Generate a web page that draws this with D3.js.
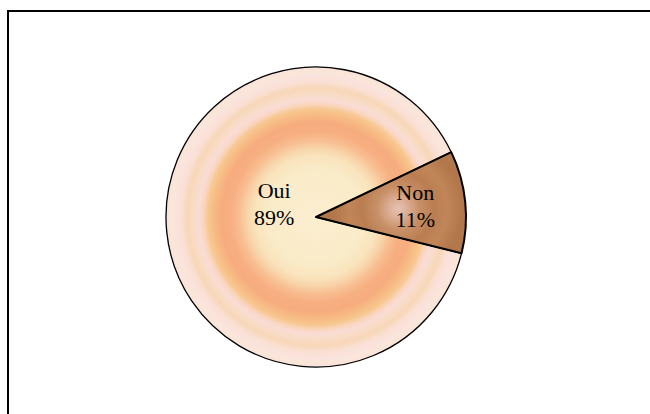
<!DOCTYPE html>
<html>
<head>
<meta charset="utf-8">
<script src="https://cdn.jsdelivr.net/npm/d3@7"></script>
<style>
  html, body { margin: 0; padding: 0; background: #fff; }
  svg { display: block; }
</style>
</head>
<body>
<svg id="chart" width="650" height="414"></svg>
<script>
const categories = ["Oui", "Non"];
const values = [89, 11];
const percentLabels = ["89%", "11%"];

const W = 650, H = 414;
const cx = 316, cy = 217, R = 150;
const svg = d3.select("#chart");

// outer frame (extends past the window at right/bottom)
svg.append("rect")
  .attr("x", 8).attr("y", 11)
  .attr("width", 700).attr("height", 500)
  .attr("fill", "none").attr("stroke", "#000").attr("stroke-width", 2);

const defs = svg.append("defs");

const ouiGrad = defs.append("radialGradient")
  .attr("id", "gOui").attr("gradientUnits", "userSpaceOnUse")
  .attr("cx", 0).attr("cy", 0).attr("r", R);
[
  [0.00, "#FBEED0"], [0.32, "#FAEBC8"], [0.41, "#F9E3BC"], [0.46, "#F8D4AA"],
  [0.51, "#F8BF92"], [0.57, "#F7AF82"], [0.63, "#F6AC7E"], [0.68, "#F7BA84"],
  [0.72, "#F8C790"], [0.75, "#F9D5BC"], [0.78, "#FADCD6"], [0.82, "#F9DCC6"],
  [0.86, "#F8D7B8"], [0.90, "#FAE0D4"], [0.94, "#FBE3DD"], [0.97, "#FAE6D8"],
  [1.00, "#FAE2DA"]
].forEach(([o, c]) => ouiGrad.append("stop").attr("offset", o).attr("stop-color", c));

const pie = d3.pie().sort(null).value(d => d)
  .startAngle(104 * Math.PI / 180)
  .endAngle(464 * Math.PI / 180);
const arcs = pie(values);
const arc = d3.arc().innerRadius(0).outerRadius(R);

const g = svg.append("g").attr("transform", `translate(${cx},${cy})`);

// Non gradient centred near the slice's light spot
const nonArc = arcs[1];
const nonC = d3.arc().innerRadius(R * 0.55).outerRadius(R * 0.55).centroid(nonArc);
const nonGrad = defs.append("radialGradient")
  .attr("id", "gNon").attr("gradientUnits", "userSpaceOnUse")
  .attr("cx", nonC[0]).attr("cy", nonC[1]).attr("r", 80);
[
  [0.00, "#E6C2B2"], [0.12, "#DCAE96"], [0.26, "#C99168"], [0.45, "#BA7D52"],
  [0.62, "#C08658"], [0.80, "#B2774A"], [1.00, "#B07A50"]
].forEach(([o, c]) => nonGrad.append("stop").attr("offset", o).attr("stop-color", c));

const fills = ["url(#gOui)", "url(#gNon)"];

g.selectAll("path.slice")
  .data(arcs)
  .join("path")
  .attr("class", "slice")
  .attr("d", arc)
  .attr("fill", (d, i) => fills[i])
  .attr("stroke", "#000")
  .attr("stroke-width", (d, i) => i === 1 ? 2 : 1.3)
  .attr("stroke-linejoin", "round");

// labels
const labelArcs = [
  d3.arc().innerRadius(R * 0.28).outerRadius(R * 0.28),
  d3.arc().innerRadius(R * 0.665).outerRadius(R * 0.665)
];
const lineH = 27;
arcs.forEach((d, i) => {
  const [lx, ly0] = labelArcs[i].centroid(d);
  const ly = i === 0 ? ly0 - 17 : ly0;
  const t = g.append("text")
    .attr("x", lx).attr("y", ly)
    .attr("text-anchor", "middle")
    .attr("font-family", "'Liberation Serif', 'Times New Roman', serif")
    .attr("font-size", 22)
    .attr("fill", "#000");
  t.append("tspan").attr("x", lx).attr("y", ly - lineH / 2 + 7).text(categories[i]);
  t.append("tspan").attr("x", lx).attr("y", ly + lineH / 2 + 7).text(percentLabels[i]);
});
</script>
</body>
</html>
